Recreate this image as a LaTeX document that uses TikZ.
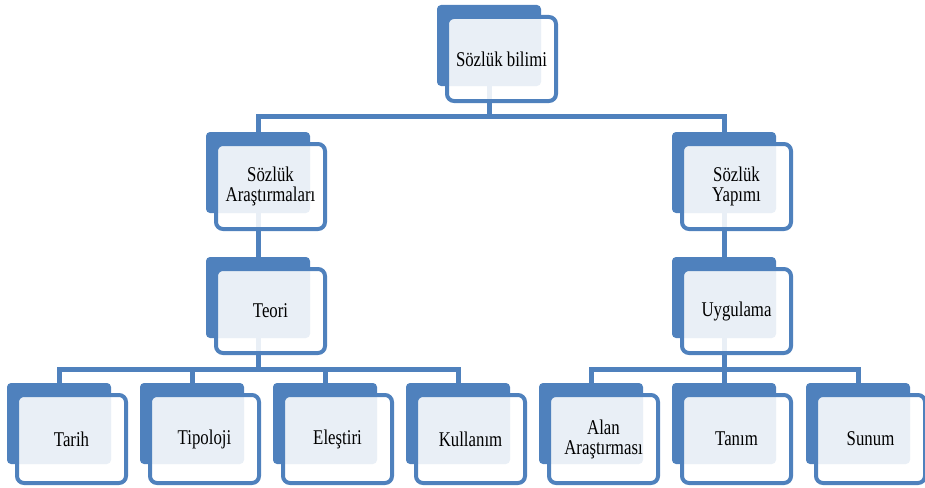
\documentclass[tikz,border=0pt]{standalone}
\usepackage{fontspec}
\setmainfont{Liberation Serif}[FakeStretch=0.8]
\usetikzlibrary{calc,backgrounds}
\definecolor{obl}{HTML}{4F81BD}
\begin{document}
\begin{tikzpicture}[x=1pt,y=-1pt,
  backbox/.style={fill=obl, draw=none, rounded corners=4pt, minimum width=104pt, minimum height=81pt, anchor=north west, inner sep=0pt, outer sep=0pt},
  frontbox/.style={draw=obl, line width=4pt, fill=white, fill opacity=0.88, text opacity=1, rounded corners=7pt, minimum width=109pt, anchor=north west, inner sep=0pt, outer sep=0pt, align=center, font=\fontsize{21pt}{20pt}\selectfont},
  conn/.style={draw=obl, line width=5pt}
]
\useasboundingbox (0,0) rectangle (925,487);
% top
\node[backbox] (b0) at (437,5) {};
\node[frontbox, minimum height=84pt] (f0) at ($(b0.north west)+(10,12)$) {Sözlük bilimi};
% level 2
\node[backbox] (b1) at (206,132) {};
\node[frontbox, minimum height=85pt] (f1) at ($(b1.north west)+(10,12)$) {Sözlük\\Araştırmaları};
\node[backbox] (b2) at (672,132) {};
\node[frontbox, minimum height=85pt] (f2) at ($(b2.north west)+(10,12)$) {Sözlük\\Yapımı};
% level 3
\node[backbox] (t1) at (206,257) {};
\node[frontbox, minimum height=84pt] (g1) at ($(t1.north west)+(10,12)$) {Teori};
\node[backbox] (t2) at (672,257) {};
\node[frontbox, minimum height=84pt] (g2) at ($(t2.north west)+(10,12)$) {Uygulama};
% level 4
\node[backbox] (c1) at (7,383) {};
\node[frontbox, minimum height=88pt] (h1) at ($(c1.north west)+(10,12)$) {Tarih};
\node[backbox] (c2) at (140,383) {};
\node[frontbox, minimum height=88pt] (h2) at ($(c2.north west)+(10,12)$) {Tipoloji};
\node[backbox] (c3) at (273,383) {};
\node[frontbox, minimum height=88pt] (h3) at ($(c3.north west)+(10,12)$) {Eleştiri};
\node[backbox] (c4) at (406,383) {};
\node[frontbox, minimum height=88pt] (h4) at ($(c4.north west)+(10,12)$) {Kullanım};
\node[backbox] (d1) at (539,383) {};
\node[frontbox, minimum height=88pt] (k1) at ($(d1.north west)+(10,12)$) {Alan\\Araştırması};
\node[backbox] (d2) at (672,383) {};
\node[frontbox, minimum height=88pt] (k2) at ($(d2.north west)+(10,12)$) {Tanım};
\node[backbox] (d3) at (806,383) {};
\node[frontbox, minimum height=88pt] (k3) at ($(d3.north west)+(10,12)$) {Sunum};
% connectors
\begin{pgfonlayer}{background}
\coordinate (bar1) at (0,116);
\coordinate (bar2) at (0,369);
\draw[conn] (b0.center) -- (b0.center |- bar1);
\draw[conn] (b1.center) -- (b1.center |- bar1) -| (b2.center);
\draw[conn] (b1.center) -- (t1.center);
\draw[conn] (b2.center) -- (t2.center);
\draw[conn] (t1.center) -- (t1.center |- bar2);
\draw[conn] (c1.center) -- (c1.center |- bar2) -| (c4.center);
\draw[conn] (c2.center) -- (c2.center |- bar2);
\draw[conn] (c3.center) -- (c3.center |- bar2);
\draw[conn] (t2.center) -- (t2.center |- bar2);
\draw[conn] (d1.center) -- (d1.center |- bar2) -| (d3.center);
\draw[conn] (d2.center) -- (d2.center |- bar2);
\end{pgfonlayer}
\end{tikzpicture}
\end{document}
